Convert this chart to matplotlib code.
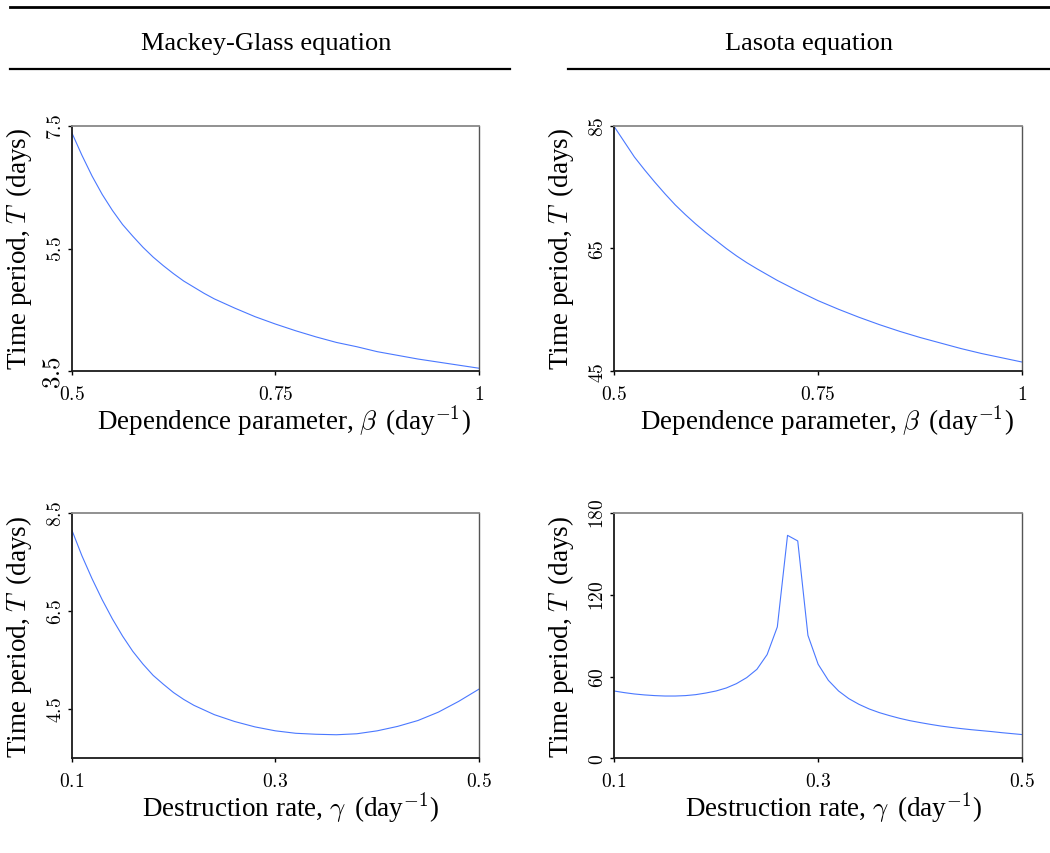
import matplotlib
matplotlib.use('Agg')
import matplotlib.pyplot as plt
from matplotlib.lines import Line2D

plt.rcParams['font.family'] = ['Liberation Serif', 'DejaVu Serif']
plt.rcParams['mathtext.fontset'] = 'cm'

# ---------------- data ----------------
beta_vals = [0.5, 0.5125, 0.525, 0.5375, 0.55, 0.5625, 0.575, 0.5875, 0.6, 0.6125,
             0.625, 0.6375, 0.65, 0.6625, 0.675, 0.7, 0.725, 0.75, 0.775, 0.8,
             0.825, 0.85, 0.875, 0.9, 0.925, 0.95, 0.975, 1.0]
mg_T_beta = [7.39, 7.02, 6.68, 6.38, 6.12, 5.89, 5.70, 5.52, 5.36, 5.22,
             5.09, 4.97, 4.87, 4.77, 4.68, 4.53, 4.39, 4.27, 4.16, 4.06,
             3.97, 3.90, 3.82, 3.76, 3.70, 3.65, 3.60, 3.55]
las_T_beta = [84.9, 82.4, 79.9, 77.8, 75.8, 73.9, 72.1, 70.5, 69.0, 67.6,
              66.3, 65.0, 63.8, 62.7, 61.7, 59.8, 58.1, 56.5, 55.1, 53.8,
              52.6, 51.5, 50.5, 49.6, 48.7, 47.9, 47.2, 46.5]

mg_gamma_vals = [0.10, 0.11, 0.12, 0.13, 0.14, 0.15, 0.16, 0.17, 0.18, 0.19, 0.20,
                 0.21, 0.22, 0.24, 0.26, 0.28, 0.30, 0.32, 0.34, 0.36, 0.38,
                 0.40, 0.42, 0.44, 0.46, 0.48, 0.50]
mg_T_gamma = [8.16, 7.63, 7.16, 6.73, 6.34, 5.99, 5.68, 5.42, 5.19, 5.01, 4.84,
              4.70, 4.58, 4.39, 4.25, 4.14, 4.06, 4.01, 3.99, 3.98, 4.00,
              4.06, 4.15, 4.27, 4.44, 4.66, 4.91]

las_gamma_vals = [0.10, 0.11, 0.12, 0.13, 0.14, 0.15, 0.16, 0.17, 0.18, 0.19, 0.20,
                  0.21, 0.22, 0.23, 0.24, 0.25, 0.26, 0.27, 0.28, 0.29, 0.30,
                  0.31, 0.32, 0.33, 0.34, 0.35, 0.36, 0.37, 0.38, 0.39, 0.40,
                  0.41, 0.42, 0.43, 0.44, 0.45, 0.46, 0.47, 0.48, 0.49, 0.50]
las_T_gamma = [49.4, 48.2, 47.2, 46.5, 46.0, 45.7, 45.7, 46.0, 46.7, 47.9, 49.4,
               51.6, 54.8, 59.2, 65.3, 76.1, 96.4, 163.6, 159.5, 90.2, 69.0,
               57.2, 49.4, 43.8, 39.6, 36.2, 33.5, 31.3, 29.3, 27.6, 26.2,
               24.9, 23.7, 22.7, 21.8, 21.0, 20.3, 19.6, 18.8, 18.1, 17.4]

titles = ['Mackey-Glass equation', 'Lasota equation']
beta_ticks = [0.5, 0.75, 1.0]
beta_ticklabels = ['0.5', '0.75', '1']
gamma_ticks = [0.1, 0.3, 0.5]
gamma_ticklabels = ['0.1', '0.3', '0.5']
ylabel = r'Time period, $T\,$ (days)'
xlabel_beta = r'Dependence parameter, $\beta\,$ (day${}^{-1}$)'
xlabel_gamma = r'Destruction rate, $\gamma\,$ (day${}^{-1}$)'

LINE_COLOR = '#4a78ff'
W, H = 1050, 854

fig = plt.figure(figsize=(W / 100, H / 100), dpi=100)

def fx(px):
    return px / W

def fy(py):
    return 1 - py / H

# header rules and titles
fig.add_artist(Line2D([fx(10), fx(1050)], [fy(8), fy(8)], color='black', lw=2.0))
fig.add_artist(Line2D([fx(10), fx(510)], [fy(69.5), fy(69.5)], color='black', lw=1.6))
fig.add_artist(Line2D([fx(568), fx(1050)], [fy(69.5), fy(69.5)], color='black', lw=1.6))
fig.text(fx(266), fy(50), titles[0], ha='center', va='baseline', fontsize=19)
fig.text(fx(809), fy(50), titles[1], ha='center', va='baseline', fontsize=19)

panels = [
    ((71.7, 126.7, 479.0, 372.3), beta_vals, mg_T_beta, (0.5, 1.0), (3.5, 7.5),
     beta_ticks, beta_ticklabels, [3.5, 5.5, 7.5], ['3.5', '5.5', '7.5'], xlabel_beta, 0.022),
    ((614.0, 126.7, 1022.3, 372.3), beta_vals, las_T_beta, (0.5, 1.0), (45, 85),
     beta_ticks, beta_ticklabels, [45, 65, 85], ['45', '65', '85'], xlabel_beta, 0.022),
    ((71.7, 514.0, 479.0, 759.3), mg_gamma_vals, mg_T_gamma, (0.1, 0.5), (3.5, 8.5),
     gamma_ticks, gamma_ticklabels, [4.5, 6.5, 8.5], ['4.5', '6.5', '8.5'], xlabel_gamma, 0.037),
    ((614.0, 514.0, 1022.3, 759.3), las_gamma_vals, las_T_gamma, (0.1, 0.5), (0, 180),
     gamma_ticks, gamma_ticklabels, [0, 60, 120, 180], ['0', '60', '120', '180'], xlabel_gamma, 0.037),
]

for i, (box, xs, ys, xl, yl, xt, xtl, yt, ytl, xlab, shift) in enumerate(panels):
    l, t, r, b = box
    ax = fig.add_axes([fx(l), fy(b), (r - l) / W, (b - t) / H])
    ax.plot(xs, ys, color=LINE_COLOR, lw=0.8)
    ax.set_xlim(*xl)
    ax.set_ylim(*yl)
    ax.set_xticks(xt)
    ax.set_xticklabels(['$' + s + '$' for s in xtl], fontsize=14)
    ax.set_yticks(yt)
    ax.set_yticklabels(['$' + s + '$' for s in ytl], fontsize=14, rotation=90, va='center')
    ax.tick_params(axis='x', direction='out', length=3, width=1, pad=7)
    ax.tick_params(axis='y', direction='out', length=3, width=1, pad=2)
    for side in ['left', 'bottom']:
        ax.spines[side].set_color('#1a1a1a')
        ax.spines[side].set_linewidth(1.3)
    ax.spines['top'].set_color('#888888')
    ax.spines['top'].set_linewidth(1.3)
    ax.spines['right'].set_color('#555555')
    ax.spines['right'].set_linewidth(1.0)
    ax.set_ylabel(ylabel, fontsize=19.5)
    ax.yaxis.set_label_coords(-0.092, 0.5)
    ax.set_xlabel(xlab, fontsize=19.5, va='top')
    ax.xaxis.set_label_coords(0.5 + shift, -0.128)
    if i == 0:
        ax.get_yticklabels()[0].set_fontsize(18)

fig.savefig('out.png', dpi=100)
